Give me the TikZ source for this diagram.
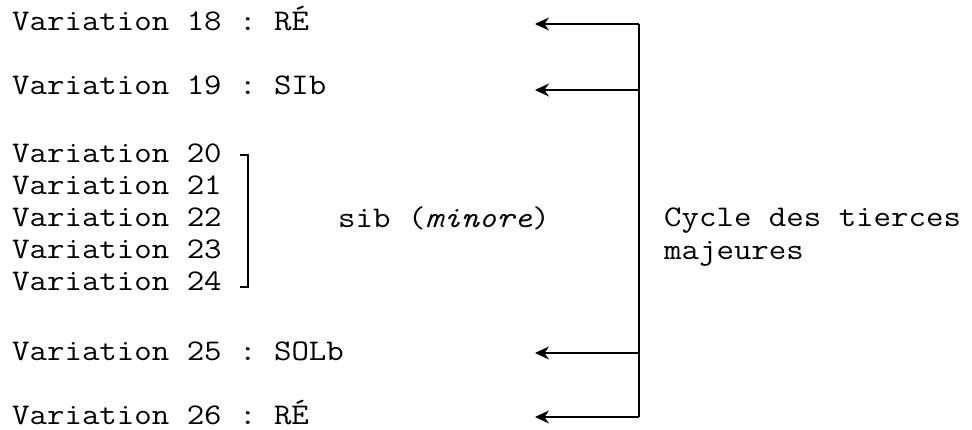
\documentclass[tikz,border=0pt]{standalone}
\usepackage{fontspec}
\setmonofont{Latin Modern Mono}[FakeStretch=1.13]
\usetikzlibrary{arrows.meta,
                positioning}

\begin{document}
\begin{tikzpicture}[x=1pt,y=-1pt,
    every node/.style={inner sep=0pt,anchor=base west,
                       font=\ttfamily\fontsize{30}{33}\selectfont},
    tip/.style={-{Stealth[length=14pt,width=13pt]},line width=1.3pt},
    trunk/.style={line width=1.3pt}]
\useasboundingbox (0,0) rectangle (972,430);

\node (v18) at (12,31) {Variation 18 : RÉ};
\node (v19) at (12,95) {Variation 19 : SIb};
\foreach \n/\y in {20/163,21/195,22/227,23/259,24/291}
  \node (v\n) at (12,\y) {Variation \n};
\node (v25) at (12,360) {Variation 25 : SOLb};
\node (v26) at (12,424) {Variation 26 : RÉ};

% accolade 20-24
\draw[trunk] (240,155) -- (248,155) -- (248,287) -- (240,287);
\node (sib) at (338,228) {sib (\textit{minore})};

% cycle des tierces
\foreach \r/\y in {18/24,19/90,25/353,26/417} {
  \coordinate (t\r) at (639,\y);
  \coordinate (h\r) at (535,\y);
  \draw[tip] (t\r) -- (h\r);
}
\draw[trunk] (t18) -- (t26);

\node (cycle) at (664,227) {Cycle des tierces};
\node (major) at (664,260) {majeures};
\end{tikzpicture}
\end{document}
